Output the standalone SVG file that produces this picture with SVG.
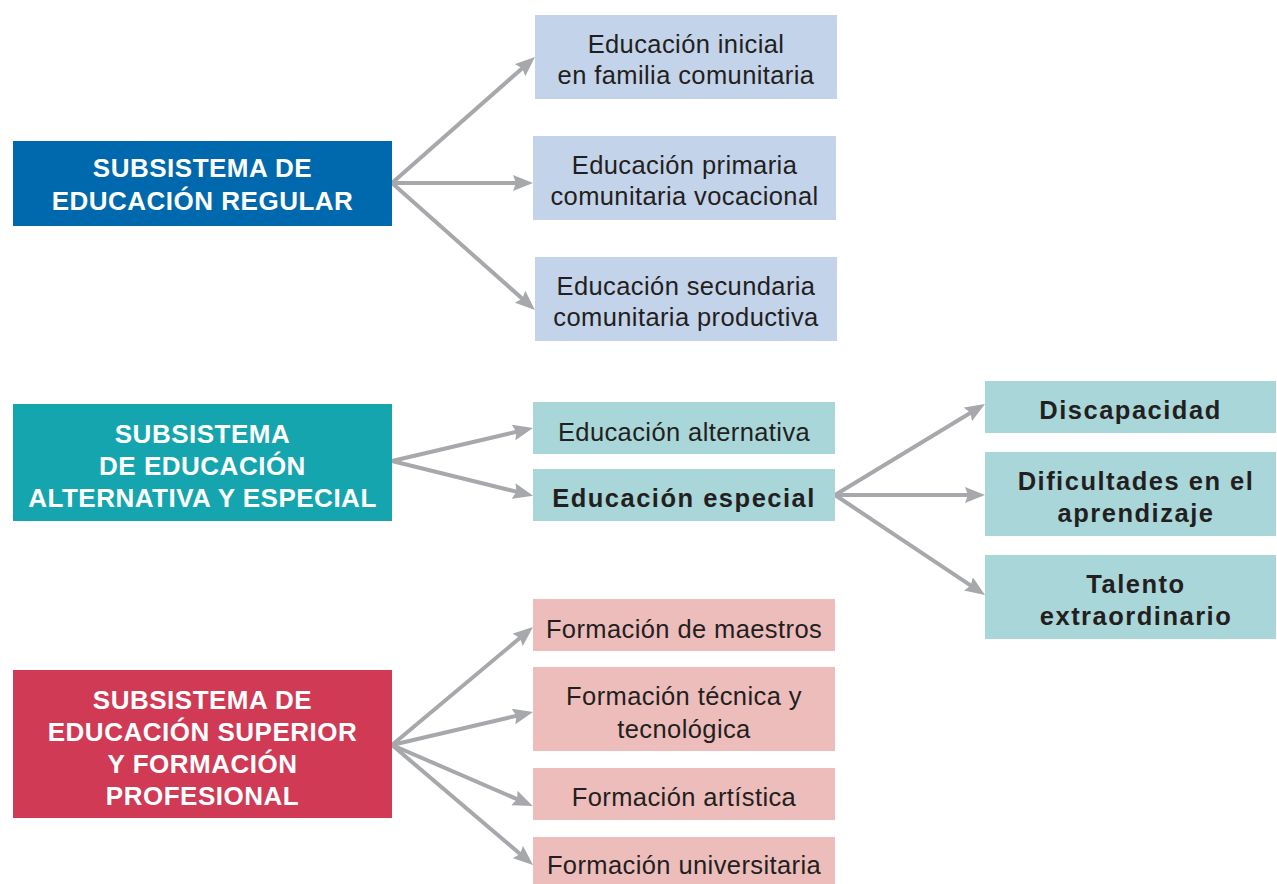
<svg xmlns="http://www.w3.org/2000/svg" width="1277" height="884" viewBox="0 0 1277 884">
<style>
.t{font-family:"Liberation Sans",Arial,sans-serif;font-size:25.5px;letter-spacing:0.4px;fill:#231F20;text-anchor:middle}
.b{font-weight:bold;letter-spacing:1.5px}
.w{font-family:"Liberation Sans",Arial,sans-serif;font-size:26px;font-weight:bold;letter-spacing:0.5px;fill:#FFFFFF;text-anchor:middle}
.c line{stroke:#A7A8AB;stroke-width:4;marker-end:url(#ah)}
.blue{fill:#C3D3EA}.teal{fill:#A9D6D9}.pink{fill:#EDBDBB}
</style>
<defs>
<marker id="ah" markerUnits="userSpaceOnUse" viewBox="0 -8 20 16" markerWidth="20" markerHeight="16" refX="8" refY="0" orient="auto">
<path d="M0,-8 L20,0 L0,8 L3,0 z" fill="#A7A8AB"/>
</marker>
</defs>
<rect width="1277" height="884" fill="#FFFFFF"/>
<g id="connectors" class="c">
<line x1="392" y1="183" x2="526" y2="64.9"/>
<line x1="392" y1="183" x2="521" y2="183"/>
<line x1="392" y1="183" x2="526" y2="302"/>
<line x1="392" y1="461" x2="521.3" y2="430.7"/>
<line x1="392" y1="461" x2="521.4" y2="492.9"/>
<line x1="835" y1="495" x2="974.7" y2="410.2"/>
<line x1="835" y1="495" x2="973" y2="495"/>
<line x1="835" y1="495" x2="975" y2="588.3"/>
<line x1="392" y1="745" x2="523.8" y2="634.7"/>
<line x1="392" y1="745" x2="521.3" y2="714.7"/>
<line x1="392" y1="745" x2="521.7" y2="801.2"/>
<line x1="392" y1="745" x2="523.9" y2="857.2"/>
</g>
<g id="regular">
<rect x="13" y="141" width="379" height="85" fill="#0068AC"/>
<text class="w" x="202.5" y="177">SUBSISTEMA DE</text>
<text class="w" x="202.5" y="210">EDUCACIÓN REGULAR</text>
</g>
<g id="alternativa">
<rect x="13" y="404" width="379" height="117" fill="#15A5AE"/>
<text class="w" x="202.5" y="443">SUBSISTEMA</text>
<text class="w" x="202.5" y="475">DE EDUCACIÓN</text>
<text class="w" x="202.5" y="507">ALTERNATIVA Y ESPECIAL</text>
</g>
<g id="superior">
<rect x="13" y="670" width="379" height="148" fill="#D03A54"/>
<text class="w" x="202.5" y="709">SUBSISTEMA DE</text>
<text class="w" x="202.5" y="741">EDUCACIÓN SUPERIOR</text>
<text class="w" x="202.5" y="773">Y FORMACIÓN</text>
<text class="w" x="202.5" y="805">PROFESIONAL</text>
</g>
<g id="inicial">
<rect class="blue" x="535" y="15" width="302" height="84"/>
<text class="t" x="686" y="53">Educación inicial</text>
<text class="t" x="686" y="84">en familia comunitaria</text>
</g>
<g id="primaria">
<rect class="blue" x="533" y="136" width="303" height="84"/>
<text class="t" x="684.5" y="174">Educación primaria</text>
<text class="t" x="684.5" y="205">comunitaria vocacional</text>
</g>
<g id="secundaria">
<rect class="blue" x="535" y="257" width="302" height="84"/>
<text class="t" x="686" y="295">Educación secundaria</text>
<text class="t" x="686" y="326">comunitaria productiva</text>
</g>
<g id="ed-alternativa">
<rect class="teal" x="533" y="402" width="302" height="52"/>
<text class="t" x="684" y="441">Educación alternativa</text>
</g>
<g id="ed-especial">
<rect class="teal" x="533" y="469" width="302" height="52"/>
<text class="t b" x="684" y="507">Educación especial</text>
</g>
<g id="discapacidad">
<rect class="teal" x="985" y="381" width="291" height="52"/>
<text class="t b" x="1130.5" y="419">Discapacidad</text>
</g>
<g id="dificultades">
<rect class="teal" x="985" y="452" width="291" height="84"/>
<text class="t b" x="1136" y="490">Dificultades en el</text>
<text class="t b" x="1136" y="522">aprendizaje</text>
</g>
<g id="talento">
<rect class="teal" x="985" y="555" width="291" height="84"/>
<text class="t b" x="1136" y="593">Talento</text>
<text class="t b" x="1136" y="625">extraordinario</text>
</g>
<g id="maestros">
<rect class="pink" x="533" y="599" width="302" height="52"/>
<text class="t" x="684" y="638">Formación de maestros</text>
</g>
<g id="tecnica">
<rect class="pink" x="533" y="667" width="302" height="84"/>
<text class="t" x="684" y="705">Formación técnica y</text>
<text class="t" x="684" y="738">tecnológica</text>
</g>
<g id="artistica">
<rect class="pink" x="533" y="768" width="302" height="52"/>
<text class="t" x="684" y="806">Formación artística</text>
</g>
<g id="universitaria">
<rect class="pink" x="533" y="837" width="302" height="47"/>
<text class="t" x="684" y="874">Formación universitaria</text>
</g>
</svg>
